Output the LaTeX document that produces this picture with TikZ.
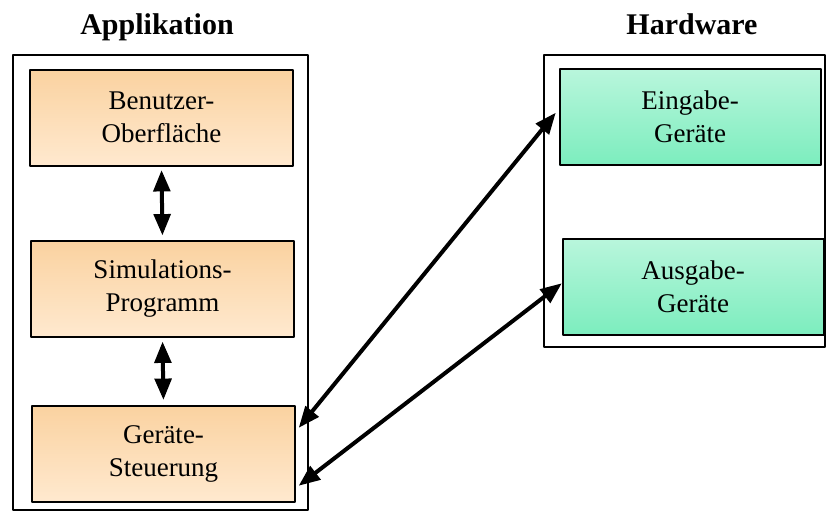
\documentclass[tikz,border=0pt]{standalone}
\usepackage{fontspec}
\setmainfont{Liberation Serif}
\usetikzlibrary{arrows}
\definecolor{peach}{HTML}{FAD2A0}
\definecolor{peachlight}{HTML}{FFE9CF}
\definecolor{mint}{HTML}{7CEDBE}
\definecolor{mintlight}{HTML}{B9F6DC}
\newcommand{\boxfont}{\fontsize{27}{33}\selectfont}
\newcommand{\headfont}{\fontsize{30}{34}\selectfont\bfseries}

\begin{document}
\begin{tikzpicture}[line cap=round,line join=round,>=triangle 45,x=1pt,y=-1pt,
  appbox/.style={draw=black,line width=2pt,top color=peach,bottom color=peachlight,
    minimum width=263pt,minimum height=96pt,align=center,font=\boxfont,inner sep=0pt},
  hwbox/.style={draw=black,line width=2pt,top color=mintlight,bottom color=mint,
    minimum width=261pt,minimum height=96pt,align=center,font=\boxfont,inner sep=0pt},
  frame/.style={draw=black,line width=1.4pt},
  link/.style={<->,line width=4pt,color=black}]
\useasboundingbox (0,0) rectangle (826,511);
\fill[white] (0,0) rectangle (826,511);
% outer frames
\draw[frame] (13,55) rectangle (308,510);
\draw[frame] (544,55) rectangle (825,347);
\node[anchor=base,font=\headfont] (apptitle) at (157,35) {Applikation};
\node[anchor=base,font=\headfont] (hwtitle) at (692,35) {Hardware};
% application side
\node[appbox] (benutzer) at (161.5,117.5) {Benutzer-\\Oberfläche};
\node[appbox] (simul) at (162.5,289) {Simulations-\\Programm};
\node[appbox] (steuer) at (163.5,453.5) {Geräte-\\Steuerung};
% hardware side
\node[hwbox] (eingabe) at (690,117) {Eingabe-\\Geräte};
\node[hwbox] (ausgabe) at (693,286.5) {Ausgabe-\\Geräte};
% connections
\draw[link,shorten <=4pt,shorten >=5pt] (benutzer.south) -- (simul.north);
\draw[link,shorten <=4pt,shorten >=5pt] (simul.south) -- (steuer.north);
\draw[link] ([xshift=3pt,yshift=26pt]steuer.east) -- ([xshift=-3pt,yshift=4pt]eingabe.west);
\draw[link] ([xshift=3pt,yshift=-32pt]steuer.east) -- ([xshift=0pt,yshift=3pt]ausgabe.west);
\end{tikzpicture}
\end{document}
